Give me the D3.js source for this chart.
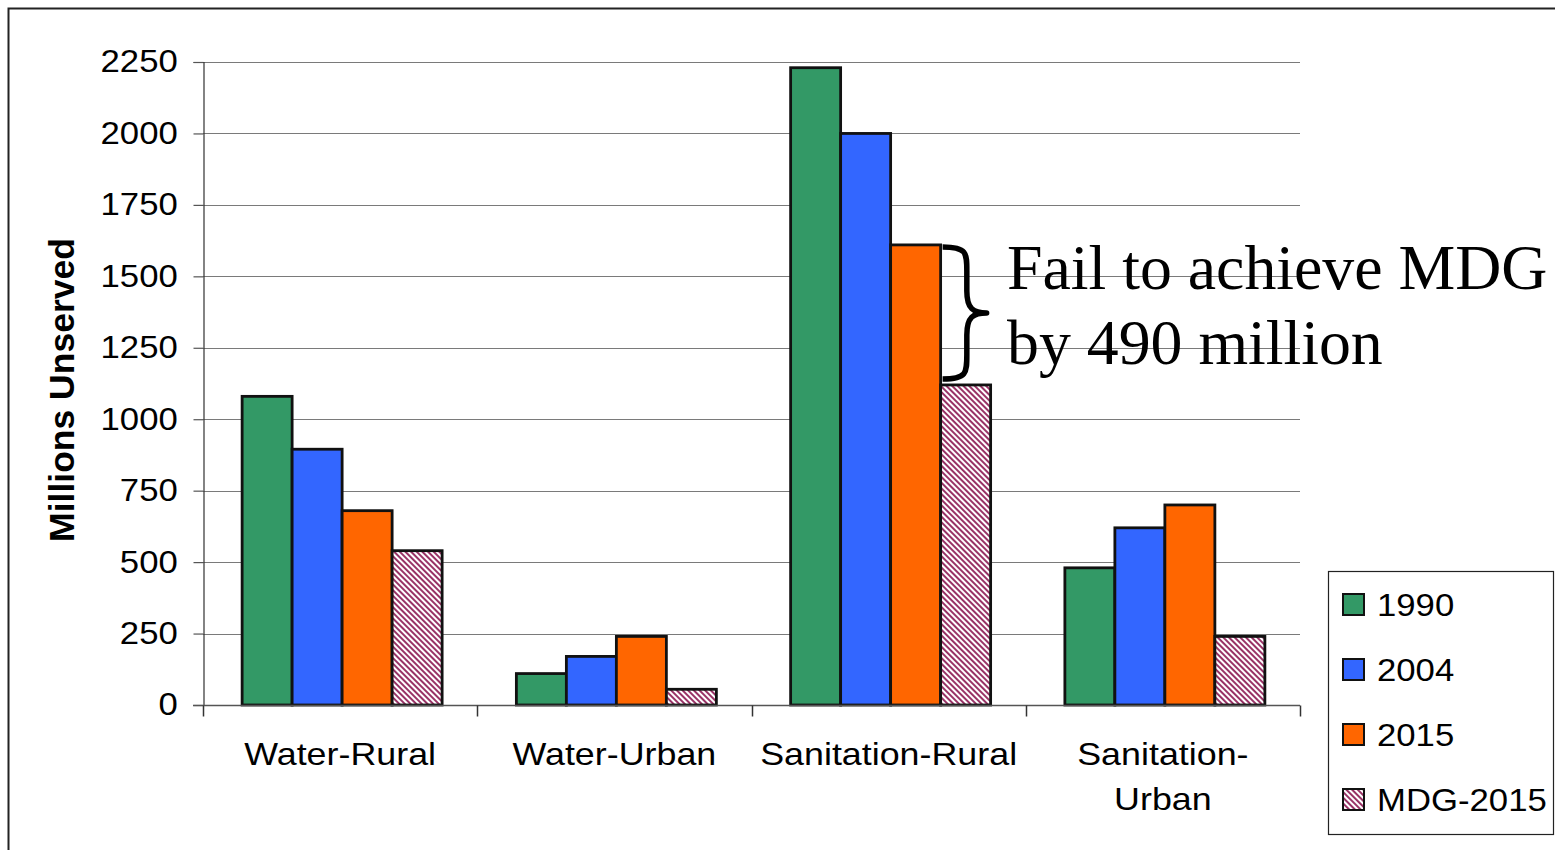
<!DOCTYPE html>
<html>
<head>
<meta charset="utf-8">
<script src="https://cdn.jsdelivr.net/npm/d3@7/dist/d3.min.js"></script>
<style>
  html, body { margin: 0; padding: 0; background: #fff; }
  svg { display: block; }
</style>
</head>
<body>
<svg id="chart" width="1555" height="850"></svg>
<script>
// Population without service, in millions
const categories = ["Water-Rural", "Water-Urban", "Sanitation-Rural", "Sanitation-Urban"];
const categoryLines = [["Water-Rural"], ["Water-Urban"], ["Sanitation-Rural"], ["Sanitation-", "Urban"]];
const seriesNames = ["1990", "2004", "2015", "MDG-2015"];
const values1990 = [1080, 110, 2230, 480];
const values2004 = [895, 170, 2000, 620];
const values2015 = [680, 240, 1610, 700];
const valuesMDG2015 = [540, 55, 1120, 240];
const yTicks = [0, 250, 500, 750, 1000, 1250, 1500, 1750, 2000, 2250];
const yLabel = "Millions Unserved";
const noteLines = ["Fail to achieve MDG", "by 490 million"];

const seriesValues = [values1990, values2004, values2015, valuesMDG2015];
const seriesFill = ["#339966", "#3366FF", "#FF6600", "url(#hatch)"];

const sansFont = "Liberation Sans, Arial, sans-serif";
const wide = 1.12; // horizontal stretch of the sans-serif labels

const svg = d3.select("#chart");
const plot = { left: 203, right: 1300, top: 62, bottom: 705 };

// hatch pattern for the MDG target bars
const defs = svg.append("defs");
const pat = defs.append("pattern")
  .attr("id", "hatch")
  .attr("patternUnits", "userSpaceOnUse")
  .attr("width", 4).attr("height", 4)
  .attr("patternTransform", "rotate(-45)");
pat.append("rect").attr("width", 4).attr("height", 4).attr("fill", "#fff");
pat.append("rect").attr("x", 0).attr("width", 2).attr("height", 4).attr("fill", "#993366");

// outer frame
svg.append("rect")
  .attr("x", 8.5).attr("y", 8.5).attr("width", 1600).attr("height", 900)
  .attr("fill", "none").attr("stroke", "#222").attr("stroke-width", 2);

const y = d3.scaleLinear().domain([0, 2250]).range([plot.bottom, plot.top]);
const x0 = d3.scaleBand().domain(categories).range([plot.left, plot.right]).padding(0);
const x1 = d3.scaleBand().domain(seriesNames).range([2, x0.bandwidth() + 2])
  .paddingInner(0).paddingOuter(0.7425);

// gridlines
svg.append("g")
  .selectAll("line")
  .data(yTicks.filter(d => d > 0))
  .join("line")
  .attr("x1", plot.left).attr("x2", plot.right)
  .attr("y1", d => Math.round(y(d)) + 0.5).attr("y2", d => Math.round(y(d)) + 0.5)
  .attr("stroke", "#7a7a7a").attr("stroke-width", 1);

// y axis
const yAxis = svg.append("g")
  .attr("transform", `translate(${plot.left + 0.5},0)`)
  .call(d3.axisLeft(y).tickValues(yTicks).tickSize(10).tickPadding(14).tickFormat(d3.format("d")));
yAxis.select(".domain").attr("stroke", "#333").attr("stroke-width", 1.2);
yAxis.selectAll(".tick line").attr("stroke", "#555").attr("stroke-width", 1.2);
yAxis.selectAll(".tick text")
  .attr("x", -23)
  .attr("transform", `scale(${wide},1)`)
  .attr("font-family", sansFont)
  .attr("font-size", 31).attr("fill", "#000");

// bars
const groups = svg.append("g")
  .selectAll("g")
  .data(categories)
  .join("g")
  .attr("transform", d => `translate(${x0(d)},0)`);

groups.selectAll("rect")
  .data((c, ci) => seriesNames.map((s, si) => ({ s, si, v: seriesValues[si][ci] })))
  .join("rect")
  .attr("x", d => x1(d.s))
  .attr("y", d => y(d.v))
  .attr("width", x1.bandwidth())
  .attr("height", d => y(0) - y(d.v))
  .attr("fill", d => seriesFill[d.si])
  .attr("stroke", "#111").attr("stroke-width", 2.8);

// x axis
const xAxis = svg.append("g").attr("transform", `translate(0,${plot.bottom + 0.5})`);
xAxis.append("line")
  .attr("x1", plot.left - 10).attr("x2", plot.right)
  .attr("stroke", "#555").attr("stroke-width", 1.5);
const boundaries = categories.map(c => x0(c)).concat([plot.right]);
xAxis.selectAll("line.tk")
  .data(boundaries)
  .join("line").attr("class", "tk")
  .attr("x1", d => Math.round(d) + 0.5).attr("x2", d => Math.round(d) + 0.5)
  .attr("y1", 0).attr("y2", 11)
  .attr("stroke", "#333").attr("stroke-width", 1.5);

const catLabels = svg.append("g")
  .selectAll("text")
  .data(categories)
  .join("text")
  .attr("transform", d => `translate(${x0(d) + x0.bandwidth() / 2},765) scale(${wide},1)`)
  .attr("text-anchor", "middle")
  .attr("font-family", sansFont)
  .attr("font-size", 32)
  .attr("fill", "#000");
catLabels.each(function (d, i) {
  const t = d3.select(this);
  categoryLines[i].forEach((line, li) => {
    t.append("tspan").attr("x", 0).attr("dy", li === 0 ? 0 : 45).text(line);
  });
});

// y axis title
svg.append("text")
  .attr("transform", `translate(74,390) rotate(-90)`)
  .attr("text-anchor", "middle")
  .attr("font-family", sansFont)
  .attr("font-weight", "bold")
  .attr("font-size", 35.5)
  .attr("fill", "#000")
  .text(yLabel);

// brace marking the gap between the 2015 projection and the MDG target
const cat = "Sanitation-Rural";
const bx = x0(cat) + x1("MDG-2015") + 2;
const yTop = y(values2015[2]) + 2;
const yBot = y(valuesMDG2015[2]) - 6;
const yMid = (yTop + yBot) / 2;
const w = 44;
const brace = `M${bx},${yTop}
  C${bx + w * 0.55},${yTop} ${bx + w * 0.55},${yTop + 6} ${bx + w * 0.55},${yTop + 24}
  L${bx + w * 0.55},${yMid - 22}
  C${bx + w * 0.55},${yMid - 4} ${bx + w * 0.7},${yMid} ${bx + w},${yMid}
  C${bx + w * 0.7},${yMid} ${bx + w * 0.55},${yMid + 4} ${bx + w * 0.55},${yMid + 22}
  L${bx + w * 0.55},${yBot - 24}
  C${bx + w * 0.55},${yBot - 6} ${bx + w * 0.55},${yBot} ${bx},${yBot}`;
svg.append("path")
  .attr("d", brace)
  .attr("fill", "none").attr("stroke", "#000").attr("stroke-width", 5.5)
  .attr("stroke-linejoin", "round");

svg.append("g")
  .selectAll("text")
  .data(noteLines)
  .join("text")
  .attr("x", 1007)
  .attr("y", (d, i) => 289 + i * 75)
  .attr("font-family", "Liberation Serif, Times New Roman, serif")
  .attr("font-size", 63.8)
  .attr("fill", "#000")
  .text(d => d);

// legend
const legend = svg.append("g");
legend.append("rect")
  .attr("x", 1328.5).attr("y", 571.5).attr("width", 225).attr("height", 263)
  .attr("fill", "#fff").attr("stroke", "#222").attr("stroke-width", 1.2);
const items = legend.selectAll("g.item")
  .data(seriesNames)
  .join("g").attr("class", "item")
  .attr("transform", (d, i) => `translate(1343,${604 + i * 65})`);
items.append("rect")
  .attr("x", 0).attr("y", -10).attr("width", 21).attr("height", 21)
  .attr("fill", (d, i) => seriesFill[i])
  .attr("stroke", "#111").attr("stroke-width", 2);
items.append("text")
  .attr("transform", `translate(34,12) scale(${wide},1)`)
  .attr("font-family", sansFont)
  .attr("font-size", 31)
  .attr("fill", "#000")
  .text(d => d);
</script>
</body>
</html>
